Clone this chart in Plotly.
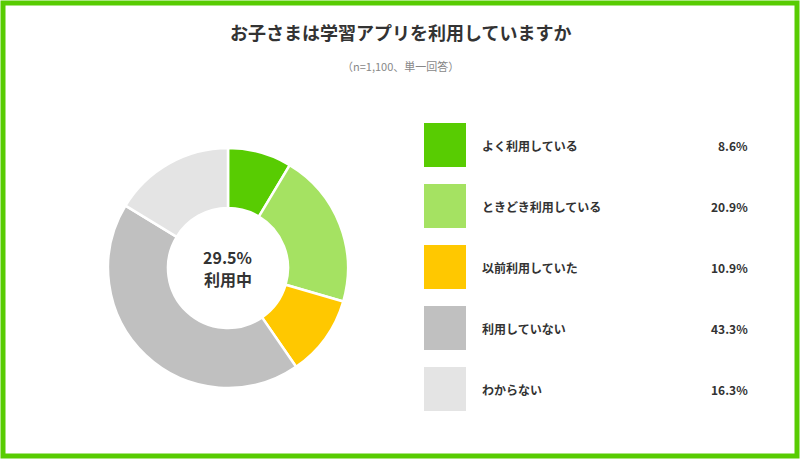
import plotly.graph_objects as go

labels = ["よく利用している", "ときどき利用している", "以前利用していた", "利用していない", "わからない"]
values = [8.6, 20.9, 10.9, 43.3, 16.3]
colors = ["#58CC02", "#A5E262", "#FFC800", "#C0C0C0", "#E4E4E4"]
center_text = ["29.5%", "利用中"]

W, H = 800, 459
FONT = "Noto Sans CJK JP"

fig = go.Figure(go.Pie(
    labels=labels, values=values, hole=0.5, sort=False, direction="clockwise",
    rotation=0, marker=dict(colors=colors, line=dict(color="white", width=2.5)),
    textinfo="none", hoverinfo="label+percent", showlegend=False,
    domain=dict(x=[108 / W, 348 / W], y=[1 - 388 / H, 1 - 148 / H]),
))

def px_x(x):
    return x / W

def px_y(y):
    return 1 - y / H

shapes = [dict(type="rect", xref="paper", yref="paper", x0=px_x(3), x1=px_x(797),
               y0=px_y(456), y1=px_y(3), line=dict(color="#58CC02", width=5))]
annotations = [
    dict(text="<b>お子さまは学習アプリを利用していますか</b>", x=0.5, y=px_y(32),
         font=dict(size=18, color="#333")),
    dict(text="（n=1,100、単一回答）", x=0.5, y=px_y(66), font=dict(size=11, color="#888")),
]
for j, t in enumerate(center_text):
    annotations.append(dict(text="<b>%s</b>" % t, x=px_x(228), y=px_y(257 + 22 * j),
                            font=dict(size=16, color="#333")))
for i, (lab, val, col) in enumerate(zip(labels, values, colors)):
    top = 123 + 61 * i
    shapes.append(dict(type="rect", xref="paper", yref="paper", x0=px_x(424), x1=px_x(466),
                       y0=px_y(top + 44), y1=px_y(top), fillcolor=col, line_width=0))
    annotations.append(dict(text="<b>%s</b>" % lab, x=px_x(480), y=px_y(top + 22),
                            xanchor="left", font=dict(size=12, color="#333")))
    annotations.append(dict(text="<b>%.1f%%</b>" % val, x=px_x(750), y=px_y(top + 22),
                            xanchor="right", font=dict(size=12, color="#333")))
for a in annotations:
    a.update(xref="paper", yref="paper", showarrow=False, yanchor="middle")
    a.setdefault("xanchor", "center")

fig.update_layout(width=W, height=H, margin=dict(l=0, r=0, t=0, b=0),
                  paper_bgcolor="white", font=dict(family=FONT),
                  shapes=shapes, annotations=annotations)
fig.write_html("out.html", config={"displayModeBar": False},
               post_script="document.body.style.margin='0';")
